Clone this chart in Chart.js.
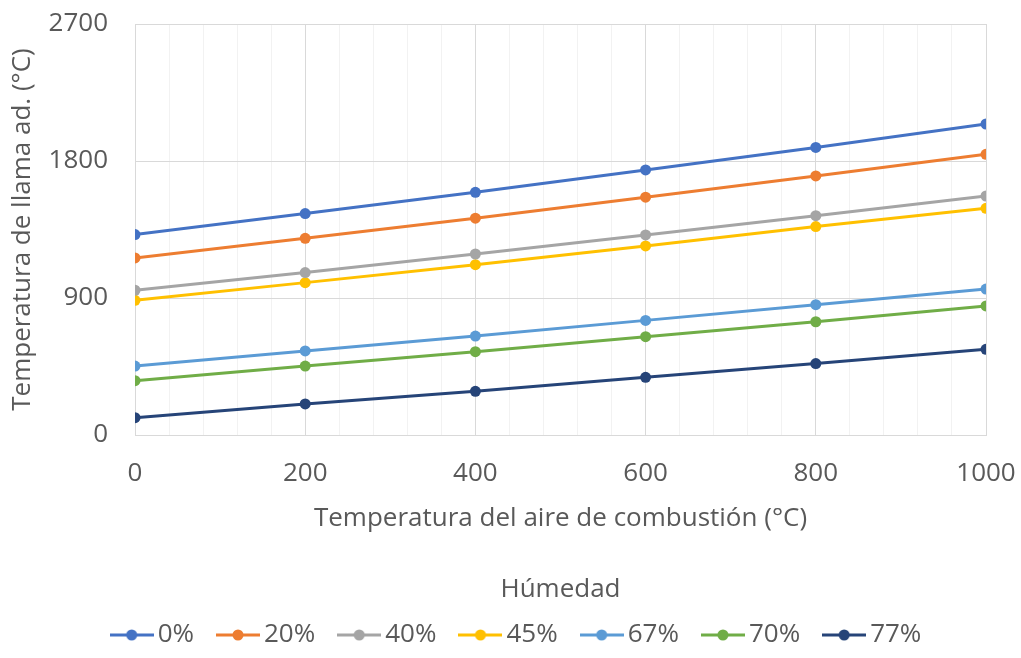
<!DOCTYPE html>
<html>
<head>
<meta charset="utf-8">
<script src="https://cdn.jsdelivr.net/npm/chart.js@4"></script>
<style>
  html, body { margin: 0; padding: 0; background: #fff; }
</style>
</head>
<body>
<canvas id="llamaChart" width="1021" height="658"></canvas>
<script>
// Temperatura del aire (°C) y temperatura de llama para cada humedad
var temperaturasAire = [0, 200, 400, 600, 800, 1000];
var humedades = ['0%', '20%', '40%', '45%', '67%', '70%', '77%'];
var llama0 = [1317, 1455, 1594, 1741, 1889, 2043];
var llama20 = [1163, 1292, 1424, 1562, 1702, 1844];
var llama40 = [951, 1067, 1189, 1314, 1441, 1570];
var llama45 = [885, 1001, 1119, 1242, 1369, 1489];
var llama67 = [453, 552, 650, 753, 856, 959];
var llama70 = [357, 453, 547, 646, 744, 848];
var llama77 = [114, 204, 287, 379, 469, 563];
var ticksY = [0, 900, 1800, 2700];

var series = [llama0, llama20, llama40, llama45, llama67, llama70, llama77];
var colores = ['#4472C4', '#ED7D31', '#A5A5A5', '#FFC000', '#5B9BD5', '#70AD47', '#264478'];

Chart.defaults.font.family = '"Open Sans", sans-serif';
Chart.defaults.font.size = 26;
Chart.defaults.color = '#595959';

// marca de leyenda: línea con círculo en medio
function marcaLeyenda(color) {
    var c = document.createElement('canvas');
    c.width = 44; c.height = 14;
    var g = c.getContext('2d');
    g.strokeStyle = color; g.lineWidth = 3;
    g.beginPath(); g.moveTo(0, 7); g.lineTo(44, 7); g.stroke();
    g.fillStyle = color;
    g.beginPath(); g.arc(22, 7, 5.5, 0, Math.PI * 2); g.fill();
    return c;
}
var marcas = colores.map(marcaLeyenda);

var datasets = series.map(function (valores, i) {
    return {
        label: humedades[i],
        data: valores.map(function (v, j) { return { x: temperaturasAire[j], y: v }; }),
        borderColor: colores[i],
        backgroundColor: colores[i],
        borderWidth: 3,
        pointRadius: 5.5,
        pointBorderWidth: 0,
        pointBackgroundColor: colores[i],
        tension: 0
    };
});

var ctx = document.getElementById('llamaChart').getContext('2d');
var llamaChart = new Chart(ctx, {
    type: 'line',
    data: { datasets: datasets },
    options: {
        responsive: false,
        animation: false,
        devicePixelRatio: 1,
        layout: { padding: { top: 24, right: 0, left: 19, bottom: 0 } },
        scales: {
            x: {
                type: 'linear',
                min: 0,
                max: 1000,
                afterFit: function (s) { s.height = 156; s.paddingRight = 35; },
                ticks: {
                    stepSize: 40,
                    autoSkip: false,
                    maxRotation: 0,
                    padding: 0,
                    callback: function (v) { return v % 200 === 0 ? String(v) : ''; }
                },
                grid: {
                    tickLength: 23,
                    tickColor: 'rgba(0,0,0,0)',
                    color: function (c) { return c.tick && c.tick.value % 200 === 0 ? '#D9D9D9' : '#F2F2F2'; }
                },
                border: { color: '#D9D9D9' },
                title: {
                    display: true,
                    text: ['Temperatura del aire de combustión (°C)', 'Húmedad'],
                    font: { size: 26, lineHeight: '71px' },
                    padding: { top: 0, bottom: -34.5 }
                }
            },
            y: {
                min: 0,
                max: 2700,
                afterFit: function (s) { s.width = 116; },
                afterBuildTicks: function (s) { s.ticks = ticksY.map(function (v) { return { value: v }; }); },
                ticks: {
                    padding: 0,
                    callback: function (v) { return String(v); }
                },
                grid: { tickLength: 27, tickColor: 'rgba(0,0,0,0)', color: '#D9D9D9' },
                border: { color: '#D9D9D9' },
                title: {
                    display: true,
                    text: 'Temperatura de llama ad. (°C)',
                    padding: { top: -11.6, bottom: 0 }
                }
            }
        },
        plugins: {
            tooltip: { enabled: false },
            legend: {
                position: 'bottom',
                labels: {
                    usePointStyle: true,
                    pointStyleWidth: 26,
                    padding: 31,
                    color: '#595959',
                    generateLabels: function (chart) {
                        var items = Chart.defaults.plugins.legend.labels.generateLabels(chart);
                        items.forEach(function (it, i) { it.pointStyle = marcas[i]; });
                        return items;
                    }
                }
            }
        }
    }
});
</script>
</body>
</html>
